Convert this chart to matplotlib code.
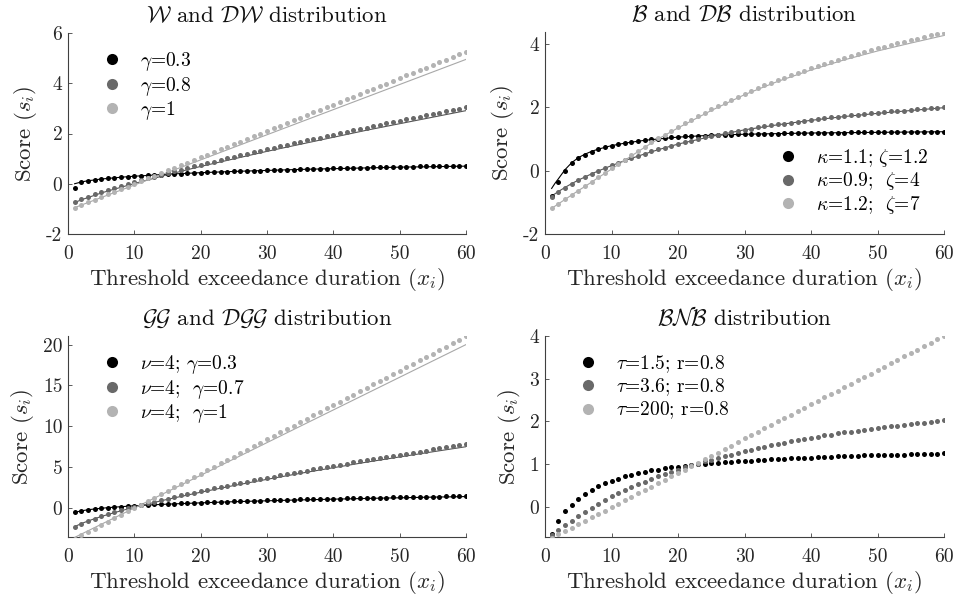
import matplotlib
matplotlib.use("Agg")
import matplotlib.pyplot as plt
from matplotlib.lines import Line2D
from matplotlib import ticker

plt.rcParams['font.family'] = 'serif'
plt.rcParams['font.serif'] = ['cmr10']
plt.rcParams['mathtext.fontset'] = 'cm'
plt.rcParams['axes.unicode_minus'] = False
plt.rcParams['axes.formatter.use_mathtext'] = True

x = list(range(1, 61))

# ---------------- Panel 1: W and DW ----------------
w_g03 = [-0.18, 0.07, 0.12, 0.15, 0.19, 0.21, 0.24, 0.26, 0.28, 0.30,
         0.32, 0.33, 0.35, 0.36, 0.38, 0.39, 0.40, 0.41, 0.43, 0.44,
         0.45, 0.46, 0.47, 0.48, 0.49, 0.50, 0.51, 0.52, 0.52, 0.53,
         0.54, 0.55, 0.56, 0.56, 0.57, 0.58, 0.59, 0.59, 0.60, 0.61,
         0.61, 0.62, 0.63, 0.63, 0.64, 0.65, 0.65, 0.66, 0.66, 0.67,
         0.68, 0.68, 0.69, 0.69, 0.70, 0.70, 0.71, 0.71, 0.72, 0.72]
w_g08 = [-0.72, -0.61, -0.51, -0.42, -0.33, -0.25, -0.17, -0.09, -0.01, 0.06,
         0.14, 0.21, 0.28, 0.35, 0.42, 0.49, 0.56, 0.62, 0.69, 0.75,
         0.82, 0.88, 0.94, 1.01, 1.07, 1.13, 1.19, 1.25, 1.32, 1.37,
         1.43, 1.49, 1.55, 1.61, 1.67, 1.73, 1.78, 1.84, 1.90, 1.95,
         2.01, 2.07, 2.12, 2.18, 2.23, 2.29, 2.34, 2.40, 2.45, 2.51,
         2.56, 2.62, 2.67, 2.72, 2.78, 2.83, 2.88, 2.93, 2.98, 3.04]
w_g10 = [-0.95, -0.84, -0.74, -0.63, -0.53, -0.42, -0.32, -0.21, -0.11, 0.00,
         0.11, 0.21, 0.32, 0.42, 0.53, 0.63, 0.74, 0.84, 0.95, 1.05,
         1.16, 1.26, 1.37, 1.47, 1.58, 1.68, 1.79, 1.89, 2.00, 2.10,
         2.21, 2.31, 2.42, 2.52, 2.63, 2.73, 2.84, 2.94, 3.05, 3.15,
         3.26, 3.36, 3.47, 3.57, 3.68, 3.78, 3.89, 3.99, 4.10, 4.20,
         4.31, 4.41, 4.52, 4.62, 4.73, 4.83, 4.94, 5.04, 5.15, 5.25]
wl_x = [1, 2, 3, 4, 5, 6, 8, 10, 12, 15, 20, 25, 30, 35, 40, 45, 50, 55, 60]
wl_g03 = [0.00, 0.07, 0.12, 0.15, 0.19, 0.21, 0.26, 0.30, 0.33, 0.38,
          0.44, 0.49, 0.53, 0.57, 0.60, 0.63, 0.66, 0.68, 0.70]
wl_g08 = [-0.75, -0.64, -0.55, -0.46, -0.37, -0.29, -0.14, 0.01, 0.15, 0.36,
          0.69, 0.99, 1.29, 1.57, 1.85, 2.13, 2.39, 2.65, 2.91]
wl_g10 = [-0.95, -0.85, -0.75, -0.65, -0.55, -0.45, -0.25, -0.05, 0.15, 0.45,
          0.95, 1.45, 1.95, 2.45, 2.95, 3.45, 3.95, 4.45, 4.95]

# ---------------- Panel 2: B and DB ----------------
b_1 = [-0.80, -0.35, -0.01, 0.23, 0.39, 0.51, 0.60, 0.67, 0.74, 0.79,
       0.84, 0.87, 0.90, 0.93, 0.96, 0.99, 1.01, 1.03, 1.05, 1.06,
       1.08, 1.09, 1.10, 1.11, 1.12, 1.13, 1.14, 1.14, 1.15, 1.15,
       1.16, 1.16, 1.17, 1.17, 1.17, 1.18, 1.18, 1.18, 1.19, 1.19,
       1.19, 1.20, 1.20, 1.20, 1.20, 1.21, 1.21, 1.21, 1.21, 1.21,
       1.22, 1.22, 1.22, 1.22, 1.22, 1.22, 1.23, 1.23, 1.23, 1.23]
b_2 = [-0.82, -0.67, -0.54, -0.42, -0.31, -0.20, -0.10, -0.01, 0.08, 0.17,
       0.25, 0.33, 0.40, 0.47, 0.54, 0.61, 0.67, 0.73, 0.79, 0.85,
       0.90, 0.95, 1.00, 1.05, 1.09, 1.14, 1.18, 1.22, 1.26, 1.30,
       1.33, 1.37, 1.40, 1.43, 1.46, 1.49, 1.52, 1.55, 1.58, 1.61,
       1.63, 1.66, 1.68, 1.71, 1.73, 1.75, 1.77, 1.79, 1.81, 1.83,
       1.85, 1.87, 1.89, 1.90, 1.92, 1.94, 1.95, 1.97, 1.99, 2.00]
b_3 = [-1.19, -1.05, -0.91, -0.77, -0.63, -0.49, -0.35, -0.21, -0.07, 0.07,
       0.21, 0.35, 0.49, 0.62, 0.76, 0.89, 1.02, 1.14, 1.26, 1.38,
       1.50, 1.61, 1.72, 1.83, 1.94, 2.04, 2.14, 2.24, 2.34, 2.43,
       2.52, 2.61, 2.70, 2.78, 2.86, 2.94, 3.02, 3.09, 3.16, 3.23,
       3.30, 3.37, 3.44, 3.50, 3.57, 3.63, 3.69, 3.75, 3.81, 3.86,
       3.92, 3.97, 4.02, 4.07, 4.12, 4.17, 4.22, 4.27, 4.32, 4.36]
bl_x = [1, 1.5, 2, 3, 4, 5, 6, 7, 8, 10, 12, 15, 17, 20, 25, 30, 35, 40, 45, 50, 55, 60]
bl_1 = [-0.56, -0.40, -0.26, 0.03, 0.25, 0.41, 0.52, 0.61, 0.68, 0.79, 0.87,
        0.96, 1.00, 1.06, 1.12, 1.15, 1.17, 1.19, 1.20, 1.21, 1.22, 1.23]
bl_2 = [-0.80, -0.73, -0.66, -0.53, -0.41, -0.30, -0.20, -0.10, -0.01, 0.16, 0.32,
        0.53, 0.66, 0.84, 1.08, 1.29, 1.45, 1.59, 1.71, 1.81, 1.90, 1.99]
bl_3 = [-1.19, -1.12, -1.05, -0.91, -0.77, -0.63, -0.50, -0.36, -0.22, 0.05, 0.33,
        0.74, 1.00, 1.35, 1.90, 2.40, 2.82, 3.18, 3.50, 3.78, 4.03, 4.27]

# ---------------- Panel 3: GG and DGG ----------------
g_03 = [-0.53, -0.34, -0.21, -0.10, -0.02, 0.06, 0.12, 0.18, 0.24, 0.29,
        0.34, 0.38, 0.43, 0.46, 0.50, 0.54, 0.57, 0.61, 0.64, 0.67,
        0.70, 0.73, 0.76, 0.78, 0.81, 0.84, 0.86, 0.88, 0.91, 0.93,
        0.95, 0.98, 1.00, 1.02, 1.04, 1.06, 1.08, 1.10, 1.12, 1.14,
        1.16, 1.17, 1.19, 1.21, 1.23, 1.24, 1.26, 1.28, 1.29, 1.31,
        1.33, 1.34, 1.36, 1.37, 1.39, 1.40, 1.42, 1.43, 1.45, 1.46]
g_07 = [-2.28, -1.90, -1.58, -1.29, -1.01, -0.76, -0.52, -0.28, -0.06, 0.16,
        0.37, 0.57, 0.77, 0.97, 1.16, 1.34, 1.53, 1.71, 1.88, 2.06,
        2.23, 2.40, 2.57, 2.73, 2.90, 3.06, 3.22, 3.37, 3.53, 3.69,
        3.84, 3.99, 4.14, 4.28, 4.44, 4.58, 4.73, 4.87, 5.01, 5.15,
        5.29, 5.43, 5.57, 5.71, 5.85, 5.97, 6.11, 6.25, 6.38, 6.51,
        6.64, 6.77, 6.90, 7.03, 7.16, 7.29, 7.42, 7.54, 7.67, 7.79]
g_10 = [-3.78, -3.36, -2.94, -2.52, -2.10, -1.68, -1.26, -0.84, -0.42, 0.00,
        0.42, 0.84, 1.26, 1.68, 2.10, 2.52, 2.94, 3.36, 3.78, 4.20,
        4.62, 5.04, 5.46, 5.88, 6.30, 6.72, 7.14, 7.56, 7.98, 8.40,
        8.82, 9.24, 9.66, 10.08, 10.50, 10.92, 11.34, 11.76, 12.18, 12.60,
        13.02, 13.44, 13.86, 14.28, 14.70, 15.12, 15.54, 15.96, 16.38, 16.80,
        17.22, 17.64, 18.06, 18.48, 18.90, 19.32, 19.74, 20.16, 20.58, 21.00]
gl_x = [1, 2, 3, 4, 5, 6, 8, 10, 12, 15, 20, 25, 30, 35, 40, 45, 50, 55, 60]
gl_03 = [-0.53, -0.35, -0.22, -0.12, -0.04, 0.04, 0.16, 0.27, 0.36, 0.47,
         0.63, 0.77, 0.88, 0.99, 1.08, 1.17, 1.25, 1.33, 1.40]
gl_07 = [-2.28, -1.91, -1.60, -1.31, -1.05, -0.80, -0.34, 0.09, 0.49, 1.06,
         1.93, 2.75, 3.51, 4.24, 4.93, 5.61, 6.25, 6.88, 7.50]
gl_10 = [-3.60, -3.20, -2.80, -2.40, -2.00, -1.60, -0.80, 0.00, 0.80, 2.00,
         4.00, 6.00, 8.00, 10.00, 12.00, 14.00, 16.00, 18.00, 20.00]

# ---------------- Panel 4: BNB ----------------
n_15 = [-0.63, -0.34, -0.11, 0.05, 0.19, 0.30, 0.40, 0.48, 0.55, 0.61,
        0.66, 0.71, 0.75, 0.79, 0.82, 0.85, 0.87, 0.90, 0.92, 0.94,
        0.96, 0.97, 0.99, 1.00, 1.02, 1.03, 1.04, 1.05, 1.06, 1.07,
        1.08, 1.09, 1.10, 1.11, 1.12, 1.12, 1.13, 1.14, 1.15, 1.15,
        1.16, 1.17, 1.17, 1.18, 1.18, 1.19, 1.19, 1.20, 1.20, 1.21,
        1.21, 1.22, 1.22, 1.22, 1.23, 1.23, 1.24, 1.24, 1.24, 1.25]
n_36 = [-0.66, -0.55, -0.44, -0.33, -0.22, -0.12, -0.02, 0.07, 0.16, 0.24,
        0.32, 0.39, 0.46, 0.53, 0.59, 0.65, 0.71, 0.77, 0.82, 0.87,
        0.92, 0.97, 1.01, 1.06, 1.10, 1.14, 1.18, 1.22, 1.26, 1.30,
        1.34, 1.37, 1.41, 1.44, 1.47, 1.50, 1.53, 1.56, 1.59, 1.62,
        1.64, 1.67, 1.69, 1.72, 1.74, 1.76, 1.78, 1.80, 1.82, 1.84,
        1.86, 1.88, 1.90, 1.92, 1.94, 1.95, 1.97, 1.99, 2.00, 2.02]
n_200 = [-0.73, -0.65, -0.57, -0.49, -0.41, -0.33, -0.25, -0.17, -0.09, -0.01,
         0.07, 0.15, 0.23, 0.31, 0.39, 0.47, 0.55, 0.63, 0.71, 0.79,
         0.87, 0.95, 1.03, 1.11, 1.19, 1.27, 1.35, 1.43, 1.52, 1.60,
         1.68, 1.76, 1.84, 1.92, 2.00, 2.08, 2.16, 2.24, 2.32, 2.40,
         2.48, 2.56, 2.64, 2.72, 2.80, 2.88, 2.96, 3.04, 3.12, 3.20,
         3.28, 3.36, 3.44, 3.52, 3.60, 3.68, 3.76, 3.84, 3.92, 4.00]

# ---------------- Text ----------------
titles = [r"$\mathcal{W}$ and $\mathcal{DW}$ distribution",
          r"$\mathcal{B}$ and $\mathcal{DB}$ distribution",
          r"$\mathcal{GG}$ and $\mathcal{DGG}$ distribution",
          r"$\mathcal{BNB}$ distribution"]
legends = [[r"$\gamma$=0.3", r"$\gamma$=0.8", r"$\gamma$=1"],
           [r"$\kappa$=1.1; $\zeta$=1.2", r"$\kappa$=0.9;  $\zeta$=4", r"$\kappa$=1.2;  $\zeta$=7"],
           [r"$\nu$=4; $\gamma$=0.3", r"$\nu$=4;  $\gamma$=0.7", r"$\nu$=4;  $\gamma$=1"],
           [r"$\tau$=1.5; r=0.8", r"$\tau$=3.6; r=0.8", r"$\tau$=200; r=0.8"]]
xlabel = r"Threshold exceedance duration ($x_i$)"
ylabel = r"Score ($s_i$)"

dot_colors = ['#000000', '#696969', '#b3b3b3']
line_colors = ['#000000', '#555555', '#a8a8a8']

fig = plt.figure(figsize=(9.58, 6.01), dpi=100)
W, H = 958, 601
def rect(x0, x1, ytop, ybot):
    return [x0 / W, 1 - ybot / H, (x1 - x0) / W, (ybot - ytop) / H]

axes = [fig.add_axes(rect(68, 466, 33, 234)),
        fig.add_axes(rect(545, 944, 32, 234)),
        fig.add_axes(rect(68, 466, 336, 537)),
        fig.add_axes(rect(545, 944, 336, 537))]

dots = [[w_g03, w_g08, w_g10], [b_1, b_2, b_3], [g_03, g_07, g_10], [n_15, n_36, n_200]]
lines = [(wl_x, [wl_g03, wl_g08, wl_g10]), (bl_x, [bl_1, bl_2, bl_3]),
         (gl_x, [gl_03, gl_07, gl_10]), None]
ylims = [(-2, 6), (-2, 4.38), (-3.55, 21.05), (-0.71, 4.0)]
yticks = [[-2, 0, 2, 4, 6], [-2, 0, 2, 4], [0, 5, 10, 15, 20], [0, 1, 2, 3, 4]]
leg_anchor = [(0.076, 0.935), (0.575, 0.451), (0.076, 0.935), (0.074, 0.935)]

axis_col = '#404040'
fs_tick, fs_lab, fs_leg = 14, 16.5, 14
for i, ax in enumerate(axes):
    if lines[i] is not None:
        lx, lys = lines[i]
        for j in range(3):
            ax.plot(lx, lys[j], color=line_colors[j], lw=0.8, zorder=2)
    for j in range(3):
        ax.plot(x, dots[i][j], ls='none', marker='o', ms=3.6, mew=0,
                color=dot_colors[j], zorder=3)
    ax.set_xlim(0, 60)
    ax.set_ylim(*ylims[i])
    ax.set_xticks([0, 10, 20, 30, 40, 50, 60])
    ax.set_yticks(yticks[i])
    ax.xaxis.set_major_formatter(ticker.FuncFormatter(lambda v, p: f"{v:g}"))
    ax.yaxis.set_major_formatter(ticker.FuncFormatter(lambda v, p: f"{v:g}"))
    for s in ['top', 'right']:
        ax.spines[s].set_visible(False)
    for s in ['left', 'bottom']:
        ax.spines[s].set_color(axis_col)
        ax.spines[s].set_linewidth(0.8)
    ax.tick_params(direction='in', length=3, width=0.6, color=axis_col,
                   labelsize=fs_tick, labelcolor='#262626')
    ax.tick_params(axis='x', pad=8)
    ax.tick_params(axis='y', pad=4)
    ax.set_title(titles[i], fontsize=fs_lab, pad=8, color='#111111')
    ax.set_xlabel(xlabel, fontsize=fs_lab, labelpad=2, color='#262626')
    ax.set_ylabel(ylabel, fontsize=fs_lab, labelpad=5, color='#262626')
    handles = [Line2D([], [], ls='none', marker='o', ms=8, mew=0, color=dot_colors[j])
               for j in range(3)]
    ax.legend(handles, legends[i], loc='upper left', bbox_to_anchor=leg_anchor[i],
              frameon=False, fontsize=fs_leg, handlelength=1.0, handletextpad=0.94,
              labelspacing=0.08, borderpad=0.2, borderaxespad=0.0)

fig.savefig("out.png", dpi=100)
